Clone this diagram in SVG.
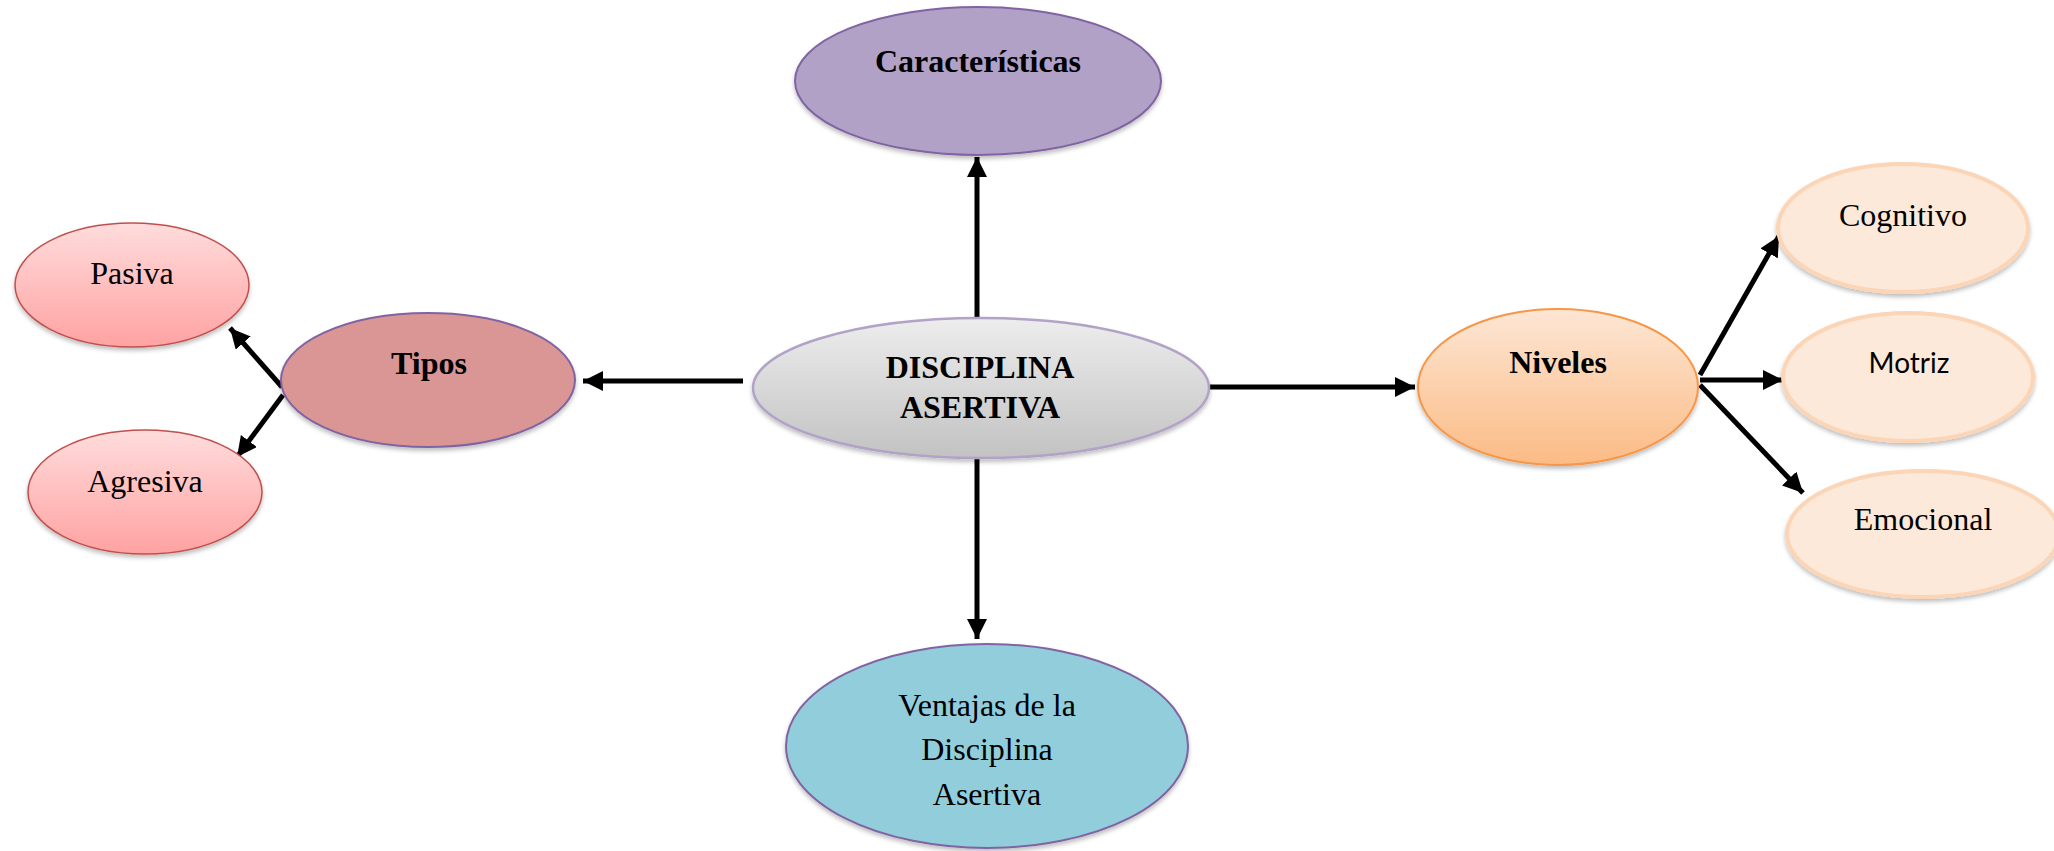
<svg xmlns="http://www.w3.org/2000/svg" width="2054" height="851" viewBox="0 0 2054 851">
<style>
.t{font-family:"Liberation Serif","Times New Roman",serif;font-size:32px;fill:#000;text-anchor:middle}
.b{font-weight:bold}
.s{font-family:Lato,"Liberation Sans",sans-serif;font-size:28px;fill:#000;text-anchor:middle}
.c{stroke:#000;stroke-width:5;fill:none;marker-end:url(#ah)}
.sh{filter:url(#ds)}
.lv{fill:#fde9d9;stroke:#fbd5b5;stroke-width:4}
.pk{fill:url(#gpink);stroke:#c0504d;stroke-width:1.5}
</style>
<defs>
<marker id="ah" markerUnits="userSpaceOnUse" markerWidth="24" markerHeight="20" refX="20" refY="10" orient="auto">
<path d="M0,0 L20,10 L0,20 Z" fill="#000"/>
</marker>
<linearGradient id="ggrey" x1="0" y1="0" x2="0" y2="1">
<stop offset="0" stop-color="#ededed"/><stop offset="1" stop-color="#c2c2c2"/>
</linearGradient>
<linearGradient id="gpink" x1="0" y1="0" x2="0" y2="1">
<stop offset="0" stop-color="#ffdcdc"/><stop offset="1" stop-color="#ffa2a2"/>
</linearGradient>
<linearGradient id="gorange" x1="0" y1="0" x2="0" y2="1">
<stop offset="0" stop-color="#fde6d4"/><stop offset="1" stop-color="#fbbb85"/>
</linearGradient>
<filter id="ds" x="-10%" y="-10%" width="120%" height="130%">
<feDropShadow dx="0" dy="3" stdDeviation="2" flood-color="#000" flood-opacity="0.25"/>
</filter>
</defs>

<g id="connectors">
<line class="c" x1="977" y1="317" x2="977" y2="157"/>
<line class="c" x1="977" y1="458" x2="977" y2="639"/>
<line class="c" x1="743" y1="381" x2="583" y2="381"/>
<line class="c" x1="1210" y1="387" x2="1415" y2="387"/>
<line class="c" x1="282" y1="387" x2="230" y2="328"/>
<line class="c" x1="283" y1="395" x2="237" y2="457"/>
<line class="c" x1="1700" y1="375" x2="1779" y2="236"/>
<line class="c" x1="1700" y1="380" x2="1783" y2="380"/>
<line class="c" x1="1700" y1="385" x2="1803" y2="493"/>
</g>

<g id="caracteristicas">
<ellipse class="sh" cx="978" cy="81" rx="183" ry="74" fill="#b2a1c7" stroke="#8064a2" stroke-width="2"/>
<text class="t b" x="978" y="72">Características</text>
</g>

<g id="disciplina">
<ellipse class="sh" cx="981" cy="388" rx="228" ry="70" fill="url(#ggrey)" stroke="#b3a2c7" stroke-width="2.5"/>
<text class="t b" x="980" y="378">DISCIPLINA</text>
<text class="t b" x="980" y="418">ASERTIVA</text>
</g>

<g id="ventajas">
<ellipse class="sh" cx="987" cy="746" rx="201" ry="102" fill="#92cddc" stroke="#8064a2" stroke-width="2"/>
<text class="t" x="987" y="716">Ventajas de la</text>
<text class="t" x="987" y="760">Disciplina</text>
<text class="t" x="987" y="805">Asertiva</text>
</g>

<g id="tipos">
<ellipse class="sh" cx="428" cy="380" rx="147" ry="67" fill="#d99694" stroke="#8064a2" stroke-width="2"/>
<text class="t b" x="429" y="374">Tipos</text>
</g>

<g id="pasiva">
<ellipse class="sh pk" cx="132" cy="285" rx="117" ry="62"/>
<text class="t" x="132" y="284">Pasiva</text>
</g>

<g id="agresiva">
<ellipse class="sh pk" cx="145" cy="492" rx="117" ry="62"/>
<text class="t" x="145" y="492">Agresiva</text>
</g>

<g id="niveles">
<ellipse class="sh" cx="1558" cy="387" rx="140" ry="78" fill="url(#gorange)" stroke="#f79646" stroke-width="2"/>
<text class="t b" x="1558" y="373">Niveles</text>
</g>

<g id="cognitivo">
<ellipse class="sh lv" cx="1903" cy="228" rx="125" ry="64"/>
<text class="t" x="1903" y="226">Cognitivo</text>
</g>

<g id="motriz">
<ellipse class="sh lv" cx="1908" cy="377" rx="125" ry="64"/>
<text class="s" x="1909" y="373">Motriz</text>
</g>

<g id="emocional">
<ellipse class="sh lv" cx="1923" cy="534" rx="136" ry="63"/>
<text class="t" x="1923" y="530">Emocional</text>
</g>
</svg>
